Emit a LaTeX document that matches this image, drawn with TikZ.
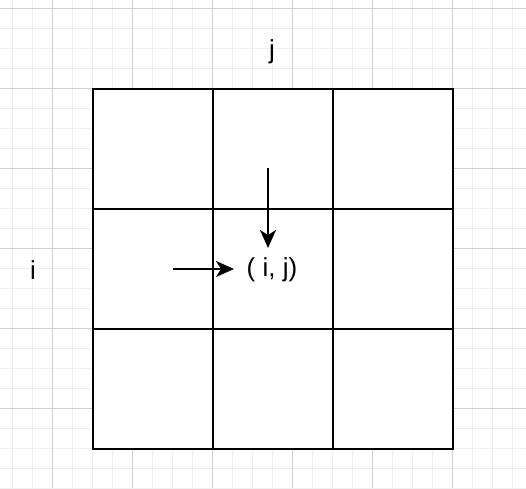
\documentclass[tikz,border=0pt]{standalone}
\usepackage{fontspec}
\setmainfont{Liberation Sans}
\usetikzlibrary{arrows.meta}
\begin{document}
\begin{tikzpicture}[x=1pt,y=-1pt,
  cellbox/.style={draw=black,fill=white,line width=2pt,minimum size=120pt,inner sep=0pt,anchor=north west},
  lbl/.style={font=\fontsize{26}{31}\selectfont,inner sep=0pt},
  arr/.style={line width=2pt,-{Stealth[length=18pt,width=16pt,inset=5pt]}},
  minorgrid/.style={draw=black!6,line width=1pt},
  majorgrid/.style={draw=black!19,line width=1pt}]
\useasboundingbox[fill=white] (0,0) rectangle (526,488);
\foreach \x in {12,32,...,512} \draw[minorgrid] (\x,0) -- (\x,488);
\foreach \y in {8,28,...,488} \draw[minorgrid] (0,\y) -- (526,\y);
\foreach \x in {52,132,...,452} \draw[majorgrid] (\x,0) -- (\x,488);
\foreach \y in {8,88,...,408} \draw[majorgrid] (0,\y) -- (526,\y);
\foreach \r in {0,1,2} \foreach \c in {0,1,2}
  \node[cellbox] (c\r\c) at (92+120*\c,88+120*\r) {};
\node[lbl] (ij) at (272,270) {( i, j)};
\node[lbl] (lj) at (272,52) {j};
\node[lbl] (li) at (33,270) {i};
\coordinate (vtop) at (268,168);
\coordinate (vend) at (268,248);
\coordinate (hstart) at (173,269);
\coordinate (hend) at (234,269);
\draw[arr] (vtop) -- (vend);
\draw[arr] (hstart) -- (hend);
\end{tikzpicture}
\end{document}
